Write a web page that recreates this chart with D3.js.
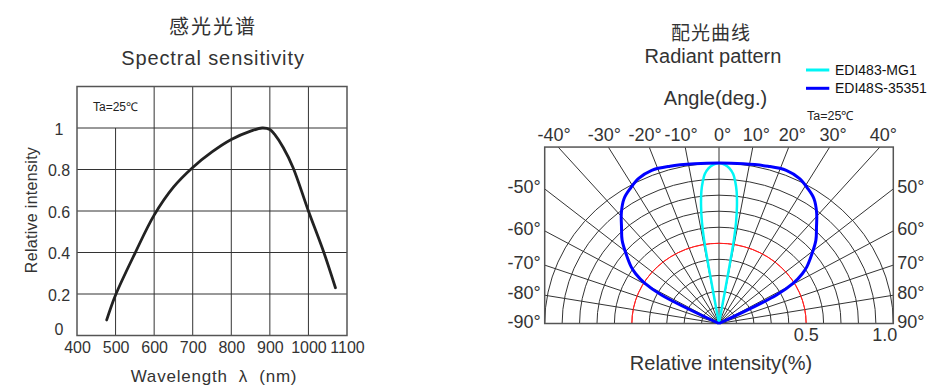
<!DOCTYPE html>
<html><head><meta charset="utf-8">
<script src="https://cdn.jsdelivr.net/npm/d3@7"></script>
<style>
body{margin:0;background:#fff}
svg{display:block;font-family:"Liberation Sans",Arial,sans-serif}
</style></head><body>
<svg id="c" width="948" height="387"></svg>
<script>
// ---------- Spectral sensitivity data ----------
const wavelengths = [477, 500, 550, 600, 650, 700, 750, 800, 850, 880, 900, 912, 935, 960, 1000, 1040, 1070];
const sensitivity = [0.075, 0.195, 0.395, 0.58, 0.715, 0.81, 0.885, 0.945, 0.985, 1.0, 0.993, 0.97, 0.905, 0.81, 0.60, 0.40, 0.23];
const xTicks = [400, 500, 600, 700, 800, 900, 1000, 1100];
const yTicks = [0, 0.2, 0.4, 0.6, 0.8, 1];
const yTickLabels = ["0", "0.2", "0.4", "0.6", "0.8", "1"];

// ---------- Radiant pattern data ----------
const seriesNames = ["EDI483-MG1", "EDI48S-35351"];
const seriesColors = ["#00f5f5", "#0000ff"];
const narrowAngles = [-9.6, -9.3, -8.8, -8, -7, -6, -5, -3.5, -2, 0, 2, 3.5, 5, 6, 7, 8, 8.8, 9.3, 9.6];
const narrowIntensity = [0, 0.53, 0.64, 0.74, 0.83, 0.89, 0.935, 0.97, 0.99, 1.0, 0.99, 0.97, 0.935, 0.89, 0.83, 0.74, 0.64, 0.53, 0];
const wideAngles = [-62.5, -61.7, -59.5, -57, -55, -51, -47, -43, -39, -35, -31, -27, -22, -16, -8, 0, 8, 16, 22, 27, 31, 35, 39, 43, 47, 51, 55, 57, 59.5, 61.7, 62.5];
const wideIntensity = [0, 0.375, 0.495, 0.57, 0.615, 0.685, 0.76, 0.82, 0.89, 0.95, 0.985, 1.015, 1.03, 1.02, 1.005, 1.0, 1.005, 1.02, 1.03, 1.015, 0.985, 0.95, 0.89, 0.82, 0.76, 0.685, 0.615, 0.57, 0.495, 0.375, 0];
const gridRadii = [0.1, 0.2, 0.3, 0.4, 0.5, 0.6, 0.7, 0.8, 0.9, 1.0];
const spokeAngles = [-90, -80, -70, -60, -50, -40, -30, -20, -10, 0, 10, 20, 30, 40, 50, 60, 70, 80, 90];
const topAngleLabels = [-40, -30, -20, -10, 0, 10, 20, 30, 40];
const sideAngleLabels = [50, 60, 70, 80, 90];
const intensityLabels = [0.5, 1.0];

const svg = d3.select("#c");
const ink = "#333";

// =========== LEFT CHART ===========
const x = d3.scaleLinear().domain([400, 1100]).range([77, 347]);
const y = d3.scaleLinear().domain([0, 1.2]).range([335.5, 86.5]);
const L = svg.append("g");

L.selectAll(".vg").data(xTicks.slice(1, -1)).join("line")
  .attr("x1", d => x(d)).attr("x2", d => x(d))
  .attr("y1", y(0)).attr("y2", d => d === 500 ? y(1) : y(1.2))
  .attr("stroke", ink).attr("stroke-width", 1);
L.selectAll(".hg").data(yTicks.slice(1)).join("line")
  .attr("x1", x(400)).attr("x2", x(1100))
  .attr("y1", d => y(d)).attr("y2", d => y(d))
  .attr("stroke", ink).attr("stroke-width", 1);
L.append("rect").attr("x", x(400)).attr("y", y(1.2))
  .attr("width", x(1100) - x(400)).attr("height", y(0) - y(1.2))
  .attr("fill", "none").attr("stroke", "#555").attr("stroke-width", 1.5);

const xAxis = L.append("g").attr("transform", `translate(0,${y(0)})`)
  .call(d3.axisBottom(x).tickValues(xTicks).tickSize(0).tickPadding(6).tickFormat(d3.format("d")));
xAxis.select(".domain").remove();
xAxis.selectAll("text").attr("font-size", 16).attr("fill", ink).attr("font-family", "Liberation Sans, Arial, sans-serif");

const yAxis = L.append("g").attr("transform", `translate(${x(400)},0)`)
  .call(d3.axisLeft(y).tickValues(yTicks).tickSize(0).tickPadding(18).tickFormat((d, i) => yTickLabels[i]));
yAxis.select(".domain").remove();
yAxis.selectAll("text").attr("font-size", 16).attr("fill", ink).attr("text-anchor", "middle")
  .attr("font-family", "Liberation Sans, Arial, sans-serif")
  .attr("dy", d => d === 0 ? "-0.05em" : "0.4em");

L.append("path")
  .datum(wavelengths.map((w, i) => [w, sensitivity[i]]))
  .attr("d", d3.line().x(d => x(d[0])).y(d => y(d[1])).curve(d3.curveCatmullRom.alpha(0.5)))
  .attr("fill", "none").attr("stroke", "#222").attr("stroke-width", 2.8).attr("stroke-linecap", "round");

L.append("text").attr("x", 93).attr("y", 111).attr("font-size", 12).attr("fill", "#222").text("Ta=25℃");

L.append("text").attr("x", 213).attr("y", 34).attr("text-anchor", "middle")
  .attr("font-size", 20).attr("letter-spacing", 2).attr("fill", ink).attr("font-family", "Noto Sans CJK SC").text("感光光谱");
L.append("text").attr("x", 213).attr("y", 65).attr("text-anchor", "middle")
  .attr("font-size", 20).attr("letter-spacing", 0.9).attr("fill", ink).text("Spectral sensitivity");
L.append("text").attr("x", 214).attr("y", 382).attr("text-anchor", "middle")
  .attr("font-size", 17).attr("letter-spacing", 0.8).attr("fill", ink).attr("xml:space", "preserve").text("Wavelength  λ  (nm)");
L.append("text").attr("transform", "translate(37,210) rotate(-90)").attr("text-anchor", "middle")
  .attr("font-size", 16).attr("letter-spacing", 0.3).attr("fill", ink).text("Relative intensity");

// =========== RIGHT CHART ===========
const cx = 719, cy = 323.5;
const rX = d3.scaleLinear().domain([0, 1]).range([0, 174.3]);
const rY = d3.scaleLinear().domain([0, 1]).range([0, 160.4]);
const topU = 1.1;
const R = svg.append("g");
const rad = a => a * Math.PI / 180;

R.append("clipPath").attr("id", "box").append("rect")
  .attr("x", cx - rX(1)).attr("y", cy - rY(topU)).attr("width", 2 * rX(1)).attr("height", rY(topU));

const grid = R.append("g").attr("clip-path", "url(#box)");
grid.selectAll("ellipse").data(gridRadii).join("ellipse")
  .attr("cx", cx).attr("cy", cy).attr("rx", d => rX(d)).attr("ry", d => rY(d))
  .attr("fill", "none").attr("stroke", d => d === 0.5 ? "#ff2020" : ink).attr("stroke-width", 1);
const spokeT = d => { const s = Math.sin(rad(d)), c = Math.cos(rad(d)); return Math.min(1 / Math.max(Math.abs(s), 1e-9), c > 1e-9 ? topU / c : 1e9); };
grid.selectAll("line").data(spokeAngles).join("line")
  .attr("x1", cx).attr("y1", cy)
  .attr("x2", d => cx + rX(spokeT(d) * Math.sin(rad(d))))
  .attr("y2", d => cy - rY(spokeT(d) * Math.cos(rad(d))))
  .attr("stroke", ink).attr("stroke-width", 1);
grid.append("ellipse").attr("cx", cx).attr("cy", cy).attr("rx", rX(0.5)).attr("ry", rY(0.5))
  .attr("fill", "none").attr("stroke", "#ff2020").attr("stroke-width", 1);

R.append("rect").attr("x", cx - rX(1)).attr("y", cy - rY(topU)).attr("width", 2 * rX(1)).attr("height", rY(topU))
  .attr("fill", "none").attr("stroke", "#555").attr("stroke-width", 1.5);

const polarLine = d3.line()
  .x(d => cx + rX(d[1]) * Math.sin(rad(d[0])))
  .y(d => cy - rY(d[1]) * Math.cos(rad(d[0])))
  .curve(d3.curveCatmullRom.alpha(0.5));
R.append("path").datum(narrowAngles.map((a, i) => [a, narrowIntensity[i]]))
  .attr("d", polarLine).attr("fill", "none").attr("stroke", seriesColors[0]).attr("stroke-width", 2.5);
R.append("path").datum(wideAngles.map((a, i) => [a, wideIntensity[i]]))
  .attr("d", polarLine).attr("fill", "none").attr("stroke", seriesColors[1]).attr("stroke-width", 3);

R.selectAll(".tl").data(topAngleLabels).join("text")
  .attr("x", d => cx + rX(topU * Math.tan(rad(d))) + (d < 0 ? -4 : 3.5))
  .attr("y", 141).attr("text-anchor", "middle").attr("font-size", 18).attr("fill", ink)
  .text(d => d + "°");
R.selectAll(".sl").data(sideAngleLabels).join("text")
  .attr("x", cx - rX(1) - 4).attr("y", d => cy - rY(1 / Math.tan(rad(d))) + 4)
  .attr("text-anchor", "end").attr("font-size", 18).attr("fill", ink).text(d => "-" + d + "°");
R.selectAll(".sr").data(sideAngleLabels).join("text")
  .attr("x", cx + rX(1) + 4).attr("y", d => cy - rY(1 / Math.tan(rad(d))) + 4)
  .attr("text-anchor", "start").attr("font-size", 18).attr("fill", ink).text(d => d + "°");
R.selectAll(".il").data(intensityLabels).join("text")
  .attr("x", d => d === 1 ? cx + rX(d) + 4 : cx + rX(d))
  .attr("y", 341).attr("text-anchor", d => d === 1 ? "end" : "middle")
  .attr("font-size", 18).attr("fill", ink).text(d3.format(".1f"));

R.append("text").attr("x", 721).attr("y", 370).attr("text-anchor", "middle")
  .attr("font-size", 20).attr("fill", ink).text("Relative intensity(%)");
R.append("text").attr("x", 711).attr("y", 40).attr("text-anchor", "middle")
  .attr("font-size", 19).attr("letter-spacing", 1).attr("fill", ink).attr("font-family", "Noto Sans CJK SC").text("配光曲线");
R.append("text").attr("x", 713).attr("y", 63).attr("text-anchor", "middle")
  .attr("font-size", 20).attr("fill", ink).text("Radiant pattern");
R.append("text").attr("x", 715.5).attr("y", 105).attr("text-anchor", "middle")
  .attr("font-size", 20).attr("fill", ink).text("Angle(deg.)");
R.append("text").attr("x", 807).attr("y", 120).attr("font-size", 12.5).attr("fill", "#222").text("Ta=25℃");

const leg = R.selectAll(".lg").data(seriesNames).join("g")
  .attr("transform", (d, i) => `translate(806,${70 + i * 18.3})`);
leg.append("line").attr("x1", 0).attr("x2", 23.3).attr("y1", 0).attr("y2", 0)
  .attr("stroke", (d, i) => seriesColors[i]).attr("stroke-width", 3);
leg.append("text").attr("x", 29).attr("y", 5).attr("font-size", 14).attr("fill", "#111").text(d => d);
</script>
</body></html>
